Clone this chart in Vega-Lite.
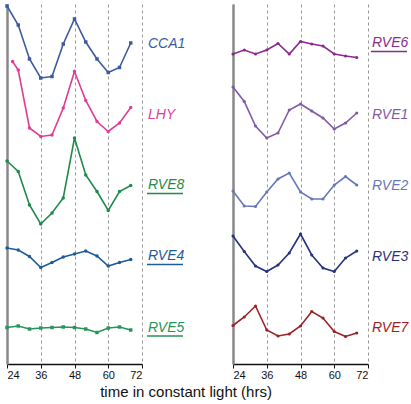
{
  "$schema": "https://vega.github.io/schema/vega-lite/v6.json",
  "padding": {"left": 3, "top": 2, "right": 42, "bottom": 0},
  "background": "white",
  "bounds": "flush",
  "spacing": 91,
  "config": {"font": "Liberation Sans", "view": {"stroke": null},
    "axisY": {"title": null, "labels": false, "ticks": false, "grid": false, "domainColor": "#888", "domainWidth": 2.5, "zindex": 1}},
  "title": {"text": "time in constant light (hrs)", "orient": "bottom", "anchor": "middle", "font": "Liberation Sans", "fontSize": 15, "fontWeight": "normal", "color": "#111", "offset": 5, "dx": -20},
  "datasets": {"expr": [
    {"panel": "A", "gene": "CCA1", "t": 24, "v": 358},
    {"panel": "A", "gene": "CCA1", "t": 28, "v": 339},
    {"panel": "A", "gene": "CCA1", "t": 32, "v": 305},
    {"panel": "A", "gene": "CCA1", "t": 36, "v": 286},
    {"panel": "A", "gene": "CCA1", "t": 40, "v": 287.5},
    {"panel": "A", "gene": "CCA1", "t": 44, "v": 320},
    {"panel": "A", "gene": "CCA1", "t": 48, "v": 345},
    {"panel": "A", "gene": "CCA1", "t": 52, "v": 322},
    {"panel": "A", "gene": "CCA1", "t": 56, "v": 305},
    {"panel": "A", "gene": "CCA1", "t": 60, "v": 291.5},
    {"panel": "A", "gene": "CCA1", "t": 64, "v": 296.5},
    {"panel": "A", "gene": "CCA1", "t": 68, "v": 321},
    {"panel": "A", "gene": "LHY", "t": 26, "v": 302.5},
    {"panel": "A", "gene": "LHY", "t": 28, "v": 294},
    {"panel": "A", "gene": "LHY", "t": 32, "v": 236},
    {"panel": "A", "gene": "LHY", "t": 36, "v": 227.5},
    {"panel": "A", "gene": "LHY", "t": 40, "v": 229},
    {"panel": "A", "gene": "LHY", "t": 44, "v": 256},
    {"panel": "A", "gene": "LHY", "t": 48, "v": 292.5},
    {"panel": "A", "gene": "LHY", "t": 52, "v": 263.5},
    {"panel": "A", "gene": "LHY", "t": 56, "v": 242.5},
    {"panel": "A", "gene": "LHY", "t": 60, "v": 232.5},
    {"panel": "A", "gene": "LHY", "t": 64, "v": 241},
    {"panel": "A", "gene": "LHY", "t": 68, "v": 256.5},
    {"panel": "A", "gene": "RVE8", "t": 24, "v": 203},
    {"panel": "A", "gene": "RVE8", "t": 28, "v": 192.5},
    {"panel": "A", "gene": "RVE8", "t": 32, "v": 159},
    {"panel": "A", "gene": "RVE8", "t": 36, "v": 140},
    {"panel": "A", "gene": "RVE8", "t": 40, "v": 151},
    {"panel": "A", "gene": "RVE8", "t": 44, "v": 166},
    {"panel": "A", "gene": "RVE8", "t": 48, "v": 226},
    {"panel": "A", "gene": "RVE8", "t": 52, "v": 189},
    {"panel": "A", "gene": "RVE8", "t": 56, "v": 172.5},
    {"panel": "A", "gene": "RVE8", "t": 60, "v": 153.5},
    {"panel": "A", "gene": "RVE8", "t": 64, "v": 172.5},
    {"panel": "A", "gene": "RVE8", "t": 68, "v": 178.5},
    {"panel": "A", "gene": "RVE4", "t": 24, "v": 116},
    {"panel": "A", "gene": "RVE4", "t": 28, "v": 114},
    {"panel": "A", "gene": "RVE4", "t": 32, "v": 107.5},
    {"panel": "A", "gene": "RVE4", "t": 36, "v": 96.5},
    {"panel": "A", "gene": "RVE4", "t": 40, "v": 101.5},
    {"panel": "A", "gene": "RVE4", "t": 44, "v": 107},
    {"panel": "A", "gene": "RVE4", "t": 48, "v": 110},
    {"panel": "A", "gene": "RVE4", "t": 52, "v": 113},
    {"panel": "A", "gene": "RVE4", "t": 56, "v": 108},
    {"panel": "A", "gene": "RVE4", "t": 60, "v": 98},
    {"panel": "A", "gene": "RVE4", "t": 64, "v": 101.5},
    {"panel": "A", "gene": "RVE4", "t": 68, "v": 104.5},
    {"panel": "A", "gene": "RVE5", "t": 24, "v": 36.5},
    {"panel": "A", "gene": "RVE5", "t": 28, "v": 38},
    {"panel": "A", "gene": "RVE5", "t": 32, "v": 35},
    {"panel": "A", "gene": "RVE5", "t": 36, "v": 36},
    {"panel": "A", "gene": "RVE5", "t": 40, "v": 36.5},
    {"panel": "A", "gene": "RVE5", "t": 44, "v": 37},
    {"panel": "A", "gene": "RVE5", "t": 48, "v": 36.5},
    {"panel": "A", "gene": "RVE5", "t": 52, "v": 35},
    {"panel": "A", "gene": "RVE5", "t": 56, "v": 31.5},
    {"panel": "A", "gene": "RVE5", "t": 60, "v": 36},
    {"panel": "A", "gene": "RVE5", "t": 64, "v": 37},
    {"panel": "A", "gene": "RVE5", "t": 68, "v": 34},
    {"panel": "B", "gene": "RVE6", "t": 24, "v": 310},
    {"panel": "B", "gene": "RVE6", "t": 28, "v": 314},
    {"panel": "B", "gene": "RVE6", "t": 32, "v": 310},
    {"panel": "B", "gene": "RVE6", "t": 36, "v": 314},
    {"panel": "B", "gene": "RVE6", "t": 40, "v": 320.5},
    {"panel": "B", "gene": "RVE6", "t": 44, "v": 310},
    {"panel": "B", "gene": "RVE6", "t": 48, "v": 322.5},
    {"panel": "B", "gene": "RVE6", "t": 52, "v": 320},
    {"panel": "B", "gene": "RVE6", "t": 56, "v": 318},
    {"panel": "B", "gene": "RVE6", "t": 60, "v": 310},
    {"panel": "B", "gene": "RVE6", "t": 64, "v": 308},
    {"panel": "B", "gene": "RVE6", "t": 68, "v": 306.5},
    {"panel": "B", "gene": "RVE1", "t": 24, "v": 277},
    {"panel": "B", "gene": "RVE1", "t": 28, "v": 262.5},
    {"panel": "B", "gene": "RVE1", "t": 32, "v": 238},
    {"panel": "B", "gene": "RVE1", "t": 36, "v": 226},
    {"panel": "B", "gene": "RVE1", "t": 40, "v": 231},
    {"panel": "B", "gene": "RVE1", "t": 44, "v": 254},
    {"panel": "B", "gene": "RVE1", "t": 48, "v": 260},
    {"panel": "B", "gene": "RVE1", "t": 52, "v": 253},
    {"panel": "B", "gene": "RVE1", "t": 56, "v": 246},
    {"panel": "B", "gene": "RVE1", "t": 60, "v": 235},
    {"panel": "B", "gene": "RVE1", "t": 64, "v": 241},
    {"panel": "B", "gene": "RVE1", "t": 68, "v": 251},
    {"panel": "B", "gene": "RVE2", "t": 24, "v": 173},
    {"panel": "B", "gene": "RVE2", "t": 28, "v": 158},
    {"panel": "B", "gene": "RVE2", "t": 32, "v": 157.5},
    {"panel": "B", "gene": "RVE2", "t": 36, "v": 172},
    {"panel": "B", "gene": "RVE2", "t": 40, "v": 185},
    {"panel": "B", "gene": "RVE2", "t": 44, "v": 191},
    {"panel": "B", "gene": "RVE2", "t": 48, "v": 172},
    {"panel": "B", "gene": "RVE2", "t": 52, "v": 165},
    {"panel": "B", "gene": "RVE2", "t": 56, "v": 165},
    {"panel": "B", "gene": "RVE2", "t": 60, "v": 179},
    {"panel": "B", "gene": "RVE2", "t": 64, "v": 187.5},
    {"panel": "B", "gene": "RVE2", "t": 68, "v": 179},
    {"panel": "B", "gene": "RVE3", "t": 24, "v": 128},
    {"panel": "B", "gene": "RVE3", "t": 28, "v": 112.5},
    {"panel": "B", "gene": "RVE3", "t": 32, "v": 98},
    {"panel": "B", "gene": "RVE3", "t": 36, "v": 92.5},
    {"panel": "B", "gene": "RVE3", "t": 40, "v": 99},
    {"panel": "B", "gene": "RVE3", "t": 44, "v": 111},
    {"panel": "B", "gene": "RVE3", "t": 48, "v": 130},
    {"panel": "B", "gene": "RVE3", "t": 52, "v": 109},
    {"panel": "B", "gene": "RVE3", "t": 56, "v": 96},
    {"panel": "B", "gene": "RVE3", "t": 60, "v": 92.5},
    {"panel": "B", "gene": "RVE3", "t": 64, "v": 106},
    {"panel": "B", "gene": "RVE3", "t": 68, "v": 113},
    {"panel": "B", "gene": "RVE7", "t": 24, "v": 38.5},
    {"panel": "B", "gene": "RVE7", "t": 28, "v": 47},
    {"panel": "B", "gene": "RVE7", "t": 32, "v": 58},
    {"panel": "B", "gene": "RVE7", "t": 36, "v": 34},
    {"panel": "B", "gene": "RVE7", "t": 40, "v": 28},
    {"panel": "B", "gene": "RVE7", "t": 44, "v": 30},
    {"panel": "B", "gene": "RVE7", "t": 48, "v": 38},
    {"panel": "B", "gene": "RVE7", "t": 52, "v": 52.5},
    {"panel": "B", "gene": "RVE7", "t": 56, "v": 46},
    {"panel": "B", "gene": "RVE7", "t": 60, "v": 32.5},
    {"panel": "B", "gene": "RVE7", "t": 64, "v": 27.5},
    {"panel": "B", "gene": "RVE7", "t": 68, "v": 31}
  ],
  "labels": [
    {"panel": "A", "gene": "CCA1", "underlined": false, "t": 72, "v": 320},
    {"panel": "A", "gene": "LHY", "underlined": false, "t": 72, "v": 249.5},
    {"panel": "A", "gene": "RVE8", "underlined": true, "t": 72, "v": 179},
    {"panel": "A", "gene": "RVE4", "underlined": true, "t": 72, "v": 108},
    {"panel": "A", "gene": "RVE5", "underlined": true, "t": 72, "v": 36.5},
    {"panel": "B", "gene": "RVE6", "underlined": true, "t": 72, "v": 321},
    {"panel": "B", "gene": "RVE1", "underlined": false, "t": 72, "v": 249.5},
    {"panel": "B", "gene": "RVE2", "underlined": false, "t": 72, "v": 178.5},
    {"panel": "B", "gene": "RVE3", "underlined": false, "t": 72, "v": 107.5},
    {"panel": "B", "gene": "RVE7", "underlined": false, "t": 72, "v": 36.5}
  ]},
  "hconcat": [
    {
      "width": 135, "height": 360,
      "encoding": {
        "x": {"field": "t", "type": "quantitative", "scale": {"domain": [24, 72], "nice": false, "zero": false},
          "axis": {"values": [24, 36, 48, 60, 72], "title": null,
            "labelFont": "Liberation Sans", "labelFontSize": 11, "labelColor": "#111", "labelPadding": 1,
            "domainColor": "#111", "domainWidth": 1.5, "tickColor": "#111", "tickSize": 4, "tickWidth": 1,
            "grid": true, "gridColor": "#999", "gridDash": [3, 3], "gridWidth": 1}},
        "y": {"field": "v", "type": "quantitative", "scale": {"domain": [0, 360], "nice": false}},
        "color": {"field": "gene", "type": "nominal", "legend": null,
          "scale": {"domain": ["CCA1", "LHY", "RVE8", "RVE4", "RVE5", "RVE6", "RVE1", "RVE2", "RVE3", "RVE7"],
            "range": ["#3d5a9e", "#e03c96", "#1f8a4c", "#1d5c96", "#27955a", "#8b2a8c", "#7f5aa6", "#6678b8", "#28337f", "#9b2227"]}}
      },
      "layer": [
        {"data": {"name": "expr"}, "transform": [{"filter": "datum.panel == 'A'"}],
          "mark": {"type": "line", "strokeWidth": 1.6}},
        {"data": {"name": "expr"}, "transform": [{"filter": "datum.panel == 'A'"}],
          "mark": {"type": "point", "filled": true, "opacity": 1},
          "encoding": {
            "shape": {"field": "gene", "type": "nominal", "legend": null,
              "scale": {"domain": ["CCA1", "LHY", "RVE8", "RVE4", "RVE5"], "range": ["square", "circle", "circle", "circle", "square"]}},
            "size": {"value": 12}}},
        {"data": {"name": "labels"}, "transform": [{"filter": "datum.panel == 'A'"}],
          "mark": {"type": "text", "align": "left", "baseline": "middle", "dx": 6, "font": "Liberation Sans", "fontSize": 14, "fontStyle": "italic"},
          "encoding": {"text": {"field": "gene"}}},
        {"data": {"name": "labels"}, "transform": [{"filter": "datum.panel == 'A' && datum.underlined"}],
          "mark": {"type": "rule", "strokeWidth": 1.5, "xOffset": 5, "x2Offset": 41, "yOffset": 8.5, "y2Offset": 8.5},
          "encoding": {"x2": {"field": "t"}, "y2": {"field": "v"}}}
      ]
    },
    {
      "width": 135, "height": 360,
      "encoding": {
        "x": {"field": "t", "type": "quantitative", "scale": {"domain": [24, 72], "nice": false, "zero": false},
          "axis": {"values": [24, 36, 48, 60, 72], "title": null,
            "labelFont": "Liberation Sans", "labelFontSize": 11, "labelColor": "#111", "labelPadding": 1,
            "domainColor": "#111", "domainWidth": 1.5, "tickColor": "#111", "tickSize": 4, "tickWidth": 1,
            "grid": true, "gridColor": "#999", "gridDash": [3, 3], "gridWidth": 1}},
        "y": {"field": "v", "type": "quantitative", "scale": {"domain": [0, 360], "nice": false}},
        "color": {"field": "gene", "type": "nominal", "legend": null,
          "scale": {"domain": ["CCA1", "LHY", "RVE8", "RVE4", "RVE5", "RVE6", "RVE1", "RVE2", "RVE3", "RVE7"],
            "range": ["#3d5a9e", "#e03c96", "#1f8a4c", "#1d5c96", "#27955a", "#8b2a8c", "#7f5aa6", "#6678b8", "#28337f", "#9b2227"]}}
      },
      "layer": [
        {"data": {"name": "expr"}, "transform": [{"filter": "datum.panel == 'B'"}],
          "mark": {"type": "line", "strokeWidth": 1.6}},
        {"data": {"name": "expr"}, "transform": [{"filter": "datum.panel == 'B'"}],
          "mark": {"type": "point", "filled": true, "opacity": 1, "shape": "circle"},
          "encoding": {"size": {"value": 10}}},
        {"data": {"name": "labels"}, "transform": [{"filter": "datum.panel == 'B'"}],
          "mark": {"type": "text", "align": "left", "baseline": "middle", "dx": 4, "font": "Liberation Sans", "fontSize": 14, "fontStyle": "italic"},
          "encoding": {"text": {"field": "gene"}}},
        {"data": {"name": "labels"}, "transform": [{"filter": "datum.panel == 'B' && datum.underlined"}],
          "mark": {"type": "rule", "strokeWidth": 1.5, "xOffset": 3, "x2Offset": 39, "yOffset": 8.5, "y2Offset": 8.5},
          "encoding": {"x2": {"field": "t"}, "y2": {"field": "v"}}}
      ]
    }
  ]
}
